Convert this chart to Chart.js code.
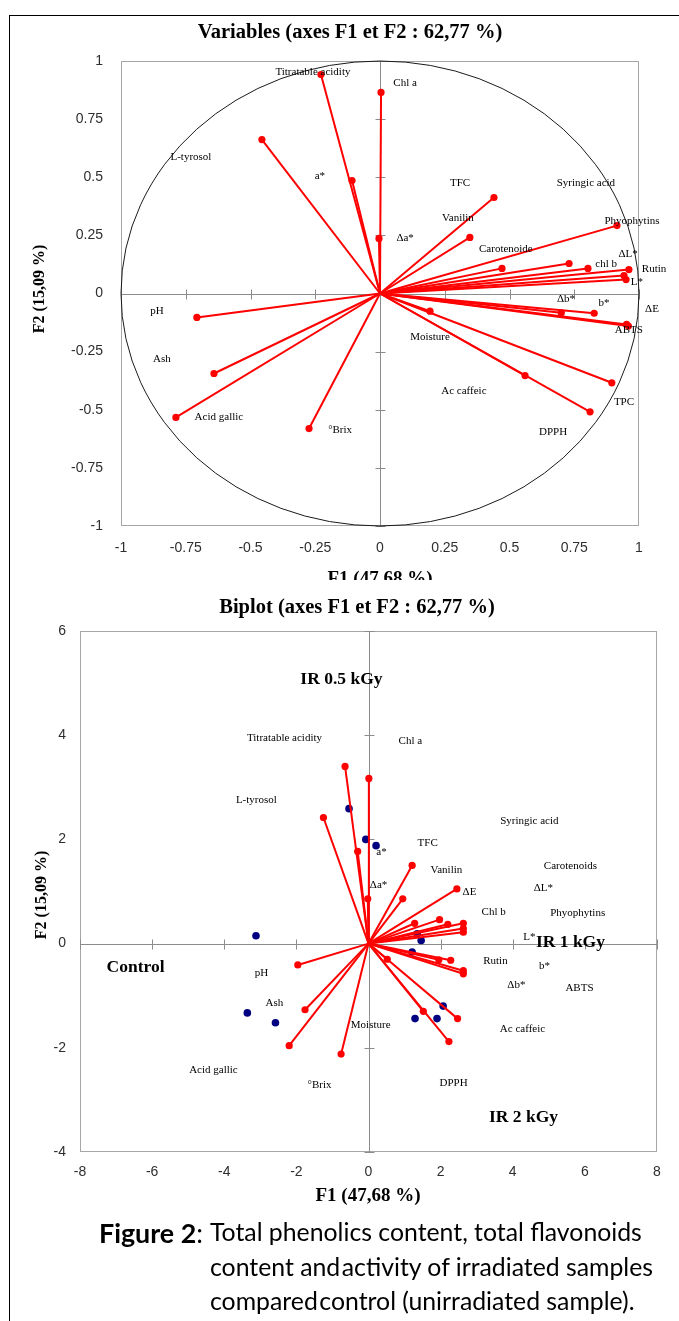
<!DOCTYPE html>
<html>
<head>
<meta charset="utf-8">
<script src="https://cdn.jsdelivr.net/npm/chart.js@4.4.1/dist/chart.umd.min.js"></script>
<style>
  html,body{margin:0;padding:0;background:#fff;}
  body{width:679px;height:1321px;position:relative;overflow:hidden;}
  #frame{position:absolute;left:9px;top:15px;width:700px;height:1400px;border-left:1.5px solid #000;border-top:1.5px solid #000;}
  #c1{position:absolute;left:0;top:0;}
  #c2{position:absolute;left:0;top:590px;}
  .cap{position:absolute;font-family:Lato,"Noto Sans",sans-serif;color:#000;white-space:nowrap;line-height:1;}
</style>
</head>
<body>
<div id="frame"></div>
<canvas id="c1" width="679" height="580"></canvas>
<canvas id="c2" width="679" height="640"></canvas>
<div class="cap" id="figlab" style="left:99px;top:1220px;"><b>Figure 2</b>:</div>
<div class="cap" id="l1" style="left:210px;top:1220px;">Total phenolics content, total flavonoids</div>
<div class="cap" id="l2" style="left:210px;top:1255px;">content and&#8202;activity of irradiated samples</div>
<div class="cap" id="l3" style="left:210px;top:1289px;">compared&#8202;control (unirradiated sample).</div>
<script>
// ---------- DATA: correlation circle (variables) ----------
const varNames = ["Titratable acidity","Chl a","L-tyrosol","a*","Δa*","TFC","Vanilin","Carotenoide","Syringic acid","chl b","Phyophytins","Rutin","ΔL*","L*","Δb*","b*","ABTS","ΔE","Moisture","Ac caffeic","TPC","DPPH","pH","Ash","Acid gallic","°Brix"];
const varF1 = [-0.228,0.004,-0.456,-0.108,-0.004,0.440,0.347,0.471,0.730,0.803,0.915,0.961,0.942,0.950,0.700,0.827,0.952,0.959,0.193,0.560,0.895,0.811,-0.707,-0.641,-0.788,-0.274];
const varF2 = [0.942,0.865,0.662,0.486,0.237,0.413,0.241,0.108,0.129,0.108,0.292,0.103,0.077,0.060,-0.083,-0.085,-0.133,-0.140,-0.076,-0.353,-0.384,-0.509,-0.103,-0.344,-0.533,-0.581];
// label anchor positions (as placed in the original figure)
const varLabelF1 = [-0.259,0.097,-0.73,-0.232,0.097,0.309,0.301,0.486,0.795,0.873,0.973,1.058,0.958,0.992,0.718,0.865,0.961,1.05,0.193,0.324,0.942,0.668,-0.861,-0.842,-0.622,-0.154];
const varLabelF2 = [0.951,0.903,0.585,0.503,0.237,0.473,0.323,0.189,0.473,0.125,0.31,0.103,0.168,0.047,-0.022,-0.043,-0.159,-0.069,-0.189,-0.421,-0.465,-0.598,-0.077,-0.284,-0.533,-0.589];
const circleTicks = [-1,-0.75,-0.5,-0.25,0,0.25,0.5,0.75,1];

// ---------- DATA: biplot ----------
const bipVarF1 = [-0.65,0.01,-1.25,-0.30,-0.02,1.21,0.95,2.45,1.28,1.97,2.20,2.63,2.63,2.63,0.52,1.95,2.28,2.63,2.63,1.52,2.47,2.23,-1.96,-1.76,-2.20,-0.76];
const bipVarF2 = [3.40,3.17,2.42,1.77,0.86,1.50,0.86,1.05,0.39,0.46,0.37,0.39,0.29,0.22,-0.30,-0.31,-0.32,-0.52,-0.58,-1.30,-1.44,-1.88,-0.41,-1.27,-1.96,-2.12];
const obsF1 = [-0.54,-0.075,0.21,-3.12,-3.36,-2.58,1.35,1.46,1.21,2.07,1.29,1.90];
const obsF2 = [2.59,2.00,1.88,0.15,-1.33,-1.52,0.19,0.06,-0.16,-1.20,-1.44,-1.44];
const bipLabels = ["Titratable acidity","Chl a","L-tyrosol","Syringic acid","TFC","a*","Vanilin","Carotenoids","Δa*","ΔE","ΔL*","Chl b","Phyophytins","L*","pH","Rutin","b*","Δb*","ABTS","Ash","Moisture","Ac caffeic","Acid gallic","°Brix","DPPH"];
const bipLabelF1 = [-2.33,1.16,-3.11,4.46,1.64,0.36,2.16,5.60,0.28,2.80,4.85,3.47,5.80,4.46,-2.97,3.52,4.88,4.10,5.85,-2.61,0.06,4.27,-4.30,-1.36,2.36];
const bipLabelF2 = [3.95,3.88,2.76,2.36,1.92,1.75,1.42,1.48,1.13,0.98,1.06,0.60,0.58,0.12,-0.56,-0.33,-0.44,-0.79,-0.86,-1.15,-1.57,-1.65,-2.42,-2.71,-2.67];
const groupNames = ["IR 0.5 kGy","IR 1 kGy","Control","IR 2 kGy"];
const groupF1 = [-0.75,5.60,-6.46,4.30];
const groupF2 = [5.07,0.02,-0.46,-3.34];
const bipXTicks = [-8,-6,-4,-2,0,2,4,6,8];
const bipYTicks = [-4,-2,0,2,4,6];

// ---------- helpers ----------
const RED = '#ff0000', NAVY = '#000080';
const SERIF = '"Liberation Serif","DejaVu Serif",serif';
const SANS = '"Liberation Sans",Arial,sans-serif';

function vectorDatasets(fx, fy){
  return fx.map((v,i)=>({
    type:'scatter', showLine:true,
    data:[{x:0,y:0},{x:v,y:fy[i]}],
    borderColor:RED, backgroundColor:RED, borderWidth:2,
    pointRadius:[0,3.6], pointHoverRadius:[0,3.6], pointBorderWidth:0
  }));
}

const decor = {
  id:'decor',
  beforeDatasetsDraw(chart, args, o){
    const {ctx, chartArea:a, scales:{x,y}} = chart;
    ctx.save();
    ctx.lineWidth = 1;
    ctx.strokeStyle = '#a6a6a6';
    ctx.strokeRect(a.left+0.5, a.top+0.5, a.width-1, a.height-1);
    const x0 = Math.round(x.getPixelForValue(0))+0.5;
    const y0 = Math.round(y.getPixelForValue(0))+0.5;
    ctx.strokeStyle = '#8c8c8c';
    ctx.beginPath();
    ctx.moveTo(x0,a.top); ctx.lineTo(x0,a.bottom);
    ctx.moveTo(a.left,y0); ctx.lineTo(a.right,y0);
    o.xMarks.forEach(v=>{ if(v===0) return; const p=Math.round(x.getPixelForValue(v))+0.5; ctx.moveTo(p,y0-5); ctx.lineTo(p,y0+5); });
    o.yMarks.forEach(v=>{ if(v===0) return; const p=Math.round(y.getPixelForValue(v))+0.5; ctx.moveTo(x0-5,p); ctx.lineTo(x0+5,p); });
    ctx.stroke();
    if (o.circle){
      ctx.strokeStyle = '#1a1a1a';
      ctx.lineWidth = 1;
      ctx.beginPath();
      ctx.ellipse(x.getPixelForValue(0), y.getPixelForValue(0),
        x.getPixelForValue(1)-x.getPixelForValue(0),
        y.getPixelForValue(0)-y.getPixelForValue(1), 0, 0, Math.PI*2);
      ctx.stroke();
    }
    ctx.restore();
  },
  afterDraw(chart, args, o){
    const {ctx, scales:{x,y}} = chart;
    ctx.save();
    ctx.fillStyle = '#000';
    ctx.textAlign='center'; ctx.textBaseline='middle';
    ctx.font = 'bold 20.5px '+SERIF;
    ctx.fillText(o.title, o.titleX, o.titleY);
    ctx.font = 'bold 19px '+SERIF;
    ctx.fillText('F1 (47,68 %)', o.xtX, o.xtY);
    ctx.font = 'bold 16px '+SERIF;
    ctx.save();
    ctx.translate(o.ytX, o.ytY); ctx.rotate(-Math.PI/2);
    ctx.fillText('F2 (15,09 %)', 0, 0);
    ctx.restore();
    ctx.font = '11px '+SERIF;
    o.labels.forEach((t,i)=>{
      ctx.fillText(t, x.getPixelForValue(o.lx[i]), y.getPixelForValue(o.ly[i]));
    });
    if (o.groups){
      ctx.font = 'bold 17.5px '+SERIF;
      o.groups.forEach((t,i)=>{
        ctx.fillText(t, x.getPixelForValue(o.gx[i]), y.getPixelForValue(o.gy[i]));
      });
    }
    ctx.restore();
  }
};

function axis(min,max,ticksArr,isY,width,pad){
  return {
    type:'linear', min, max,
    afterBuildTicks:s=>{ s.ticks = ticksArr.map(v=>({value:v})); },
    afterFit:s=>{ if(isY) s.width = width; else s.height = width; },
    grid:{display:false, drawTicks:false}, border:{display:false},
    ticks:{ padding:pad, color:'#2e2e2e', font:{family:SANS, size:14}, callback:v=>String(v), maxRotation:0, autoSkip:false }
  };
}

// ---------- chart 1: variables ----------
new Chart(document.getElementById('c1'), {
  type:'scatter',
  data:{ datasets: vectorDatasets(varF1, varF2) },
  options:{
    responsive:false, animation:false, devicePixelRatio:1,
    layout:{padding:{left:0, right:40, top:61, bottom:24}},
    plugins:{ legend:{display:false}, tooltip:{enabled:false},
      decor:{ circle:true, xMarks:circleTicks, yMarks:circleTicks,
        title:'Variables (axes F1 et F2 : 62,77 %)', titleX:350, titleY:33,
        xtX:380, xtY:579, ytX:40, ytY:289,
        labels:varNames, lx:varLabelF1, ly:varLabelF2 } },
    scales:{
      x: axis(-1,1,circleTicks,false,30,14),
      y: axis(-1,1,circleTicks,true,121,18)
    }
  },
  plugins:[decor]
});

// ---------- chart 2: biplot ----------
const ds2 = vectorDatasets(bipVarF1, bipVarF2);
ds2.push({ type:'scatter', data: obsF1.map((v,i)=>({x:v,y:obsF2[i]})),
  backgroundColor:NAVY, borderColor:NAVY, pointRadius:3.8, pointBorderWidth:0, showLine:false });
new Chart(document.getElementById('c2'), {
  type:'scatter',
  data:{ datasets: ds2 },
  options:{
    responsive:false, animation:false, devicePixelRatio:1,
    layout:{padding:{left:0, right:22, top:41, bottom:48}},
    plugins:{ legend:{display:false}, tooltip:{enabled:false},
      decor:{ circle:false, xMarks:bipXTicks, yMarks:bipYTicks,
        title:'Biplot (axes F1 et F2 : 62,77 %)', titleX:357, titleY:18,
        xtX:368, xtY:606, ytX:42, ytY:305,
        labels:bipLabels, lx:bipLabelF1, ly:bipLabelF2,
        groups:groupNames, gx:groupF1, gy:groupF2 } },
    scales:{
      x: axis(-8,8,bipXTicks,false,30,12),
      y: axis(-4,6,bipYTicks,true,80,14)
    }
  },
  plugins:[decor]
});

// ---------- caption sizing ----------
function fit(id, target){
  const el = document.getElementById(id);
  let fs = 22; el.style.fontSize = fs+'px';
  const w = el.getBoundingClientRect().width;
  fs = fs*target/w; el.style.fontSize = fs+'px';
  return fs;
}
const f1 = fit('l1', 432);
['l2','l3'].forEach(id=>document.getElementById(id).style.fontSize=f1+'px');
fit('figlab', 104);
</script>
</body>
</html>
